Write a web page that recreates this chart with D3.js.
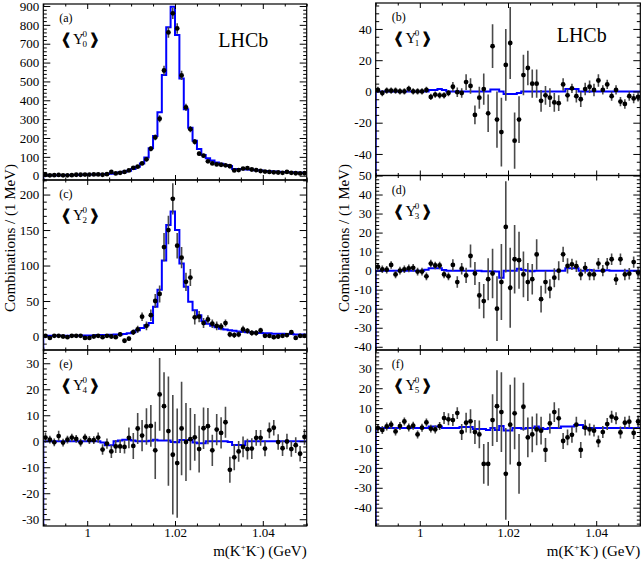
<!DOCTYPE html>
<html><head><meta charset="utf-8">
<script src="https://cdn.jsdelivr.net/npm/d3@7"></script>
<style>body{margin:0;background:#fff}svg{display:block}</style>
</head><body>
<script>
// ---- data ----
const massLo = 0.99, massHi = 1.05, binWidth = 0.001;
const binCenters = d3.range(60).map(i => +(massLo + binWidth * (i + 0.5)).toFixed(4));
const xMajorTicks = [1.00, 1.02, 1.04];
const xTickLabels = ["1", "1.02", "1.04"];

const dataA = [5,2,3,4,2,2,3,5,5,6, 6,7,7,5,8,20,12,15,20,28, 42,48,65,87,143,203,302,558,760,861, 781,532,362,247,180,117,106,76,65,60, 58,55,50,28,30,38,40,33,30,25, 22,20,18,17,15,20,15,13,12,13];
const errA  = [3,3,3,3,3,3,3,3,3,3, 3,3,3,3,3,5,4,4,5,6, 7,7,9,10,13,15,18,25,28,30, 28,24,19,16,14,11,11,9,8,8, 8,8,7,6,6,6,7,6,6,5, 5,5,4,4,4,5,4,4,4,4];
const fitA  = [3,3,3,3,3,4,4,4,5,5, 6,6,7,8,9,10,13,17,21,26, 35,47,65,97,145,210,336,534,787,896, 746,516,353,254,185,141,110,92,80,70, 63,57,52,36,35,34,33,31,29,27, 25,24,22,21,20,19,18,17,16,15];

const dataB = [1,-1,0.5,0.5,0.5,0,0,1.7,0,0, 0,1,-3.5,-2,-2.5,-2.5,-1,3,-0.5,-1, 6,3.5,-15,-4,1.5,-14,29,-18,-26,17, 31,-31.5,-18,10.5,15,5,5,-6,-2.5,-4, -7,-7.5,4.5,-2.5,2,-3,-5,1.5,3,1, 7,1,4.5,-3,1,-6.5,-8,-3,-4.5,-3.5];
const errB  = [2,2,2,2,2,2,2,2,2,2, 2,2,2,2,2,2,2,3,3,3, 5,5,6,7,10,12,14,18,22,23, 23,18,15,13,11,9,9,7,6,6, 6,5,4,4,3,4,5,4,4,4, 4,3,3,3,3,3,3,3,3,3];
const fitB  = [0,0,0,0,0,0,0,0,0,0, 0,0,1,1,1.5,1,0,0,0,0, 0,0,0,0,0,0,1.3,1.3,0,-1.7, -1.7,-1.7,-1,0,0,0,0,0,0,0, 0,0,0,1.5,1.5,1.5,0,0,0,0, 0,0,0,0,0,0,0,0,0,0];

const dataC = [1,-2,1,1,0,-1,1,1,1,-2, -2,0,1,-1,1,0,-1,3,-6,-3, 6,10,28,15,30,50,60,126,150,194, 128,111,77,83,27,28,19,24,18,15, 14,19,3,2,3,10,8,5,5,8.5, 1,1,-1,0,1,2,6,-2,1,1];
const errC  = [2,2,2,2,2,2,2,2,2,2, 2,2,2,2,2,2,2,3,3,3, 4,5,6,6,8,10,12,20,20,22, 18,15,13,12,10,8,7,6,6,6, 5,5,4,4,4,5,4,4,4,4, 3,3,3,3,3,3,3,3,3,3];
const fitC  = [1,1,1,1,1,1,1,1,1,1.5, 1.5,1.5,2,2,2,2.5,3,3,3.5,4.5, 6,9,12,16,19,42,66,107,157,176, 150,103,70,49,37,30,22,18,15,13, 11,10,9,8,7,6.5,6,5.5,5,5, 4.5,4.5,4,4,4,3.5,3.5,3,3,3];

const dataD = [2,0.7,0.5,3,-2,0,0.7,1.2,1.5,-0.5, -0.5,-3,3.7,2.7,2.7,-2,-3,3,-6,1, -2.5,7.7,-1.5,-13,-16,-4.5,-1.5,-20,-6,23, -9,6,5.5,-2,-6,-4.5,8.5,-15,-6,-9.5, -3.7,0,8.6,2.5,3.3,2.3,-2,1.5,-2,-2, 3.7,0,3.7,6,-4.6,6,-2,-1.6,4.5,-1];
const errD  = [2,2,2,2,2,2,2,2,2,2, 2,2,2,2,2,2,2,3,3,3, 4,6,6,7,9,11,13,17,20,24, 21,18,15,12,10,8,8,7,6,5, 5,5,4,4,3,3,3,3,3,3, 3,3,3,3,3,3,3,3,3,3];
const fitD  = [0,0,0,0,0,0,0,0,0,0, 0,0.5,1.3,1.3,1.3,0.3,0,0,0,0, 0,0,0,0,-0.3,-0.3,-0.3,-0.5,-3.7,0, 0,0,1,0.3,0,-0.3,0,0,0,0, 0,0,0,1.2,1.3,1.3,0,0,0.3,0, 0,0,0.2,0,0,0,0,0,0,0];

const dataE = [1.4,0.6,-0.4,2,-0.5,0.6,1.4,0.9,-0.5,1.4, 0.4,0.4,1.4,-3.2,-0.9,-3.9,-2,-2,-2.2,1.3, -1.8,4.9,2.2,5.7,5.9,-3.5,18,13.5,3.9,-5.2, -8.4,4.9,-0.3,0.8,1.5,-3,5,5.8,-3.5,4.5, 3.2,7.3,-11,-6.2,-3.9,-2.2,-3,-2.8,1.3,1.3, -2.8,4.2,5.2,-0.3,-2.7,-0.1,-3,-1.5,-4.8,1.7];
const errE  = [2,1.5,1.5,2,1.5,1.5,1.5,1.5,1.5,1.5, 1.5,1.5,2,2,2,2.5,2.5,2.5,2.5,4, 5,6,6,7,8,11,14,13,21,23, 21,18,15,12,9,9,8,7,6,6, 6,6,5,5,4,4,4,4,3,3, 3,3,3,3,3,3,3,3,3,3];
const fitE  = [0,0,0,0,0,0,0,0,0,0, 0,0,0,-0.5,-1.5,-1.5,0,0.3,0.6,0.6, 0.3,0,0,0,0.2,0.6,0.3,0.3,0.3,-0.3, -0.4,0.5,0.5,0.5,-0.5,-0.8,-0.8,0,0,0, 0,0,-0.3,-1.4,-1.4,-1.4,0,0,0,0, 0,0,0,0,0,0,0,0,0,0];

const dataF = [0,-1,0.8,1.7,-1.7,1,3.3,0.3,1.2,-3.2, 0.2,2.8,-0.3,-0.7,1,5,4.4,4,7.5,-2, 2.7,3.4,-2,-3.2,-18,-18,4,11,8,-23, 1.7,7.4,-18,10.7,-4.7,-3.2,-0.7,-1.3,-11,2.3, 8,4.9,-6.5,-4.7,-3.4,1.7,-11,0.2,-0.7,-1.3, -6.7,-2,2,5.7,4.9,-2.2,2.7,3.2,-2.5,3.3];
const errF  = [2,2,2,2,2,2,2,2,2,2, 2,2,2,2,2,3,3,3,3,4, 5,6,6,7,10,11,13,18,20,23, 20,18,15,12,10,9,8,7,6,5, 5,5,4,4,4,4,4,4,3,3, 3,3,3,3,3,3,3,3,3,3];
const fitF  = [0,0,0,0,0,0,0,0,0,0, 0,0,0.8,0.8,0.8,0,0,0,0,0.5, 0.5,0.5,-0.5,-0.5,-0.5,-1,0,-1,1,-1.2, -1.2,0,0,-0.3,0,0,0.8,0,-0.5,0, 0,0,0.8,0.8,0.8,1.5,1.5,0,0,0, 0,0,0,0,0,0,0,0,0,0];

const panelTags = ["(a)","(b)","(c)","(d)","(e)","(f)"];
const momentIndex = ["0","1","2","3","4","5"];
const yTitle = "Combinations / (1 MeV)";

// ---- layout ----
const W = 641, H = 561;
const FONT = "'Liberation Serif','Times New Roman',serif";
const colX = [[43.3, 306.7], [375.7, 640.3]];
const panels = [
  {k:0, col:0, top:4,     bottom:180,   domain:[-22.8,910.6], major:100, minor:20, data:dataA, err:errA, fit:fitA, lhcb:[175,43], bottomRow:false},
  {k:1, col:1, top:3,     bottom:175.5, domain:[-53.8,56.6],  major:20,  minor:5,  data:dataB, err:errB, fit:fitB, lhcb:[181,39], bottomRow:false},
  {k:2, col:0, top:180,   bottom:350,   domain:[-19,220.5],   major:50,  minor:10, data:dataC, err:errC, fit:fitC, bottomRow:false},
  {k:3, col:1, top:175.5, bottom:350,   domain:[-41.7,50],    major:10,  minor:2,  data:dataD, err:errD, fit:fitD, bottomRow:false},
  {k:4, col:0, top:350,   bottom:526,   domain:[-32.6,35.1],  major:10,  minor:2,  data:dataE, err:errE, fit:fitE, bottomRow:true},
  {k:5, col:1, top:350,   bottom:526,   domain:[-49.2,39.2],  major:10,  minor:2,  data:dataF, err:errF, fit:fitF, bottomRow:true}
];

const svg = d3.select("body").append("svg").attr("width", W).attr("height", H)
  .style("font-family", FONT);
const defs = svg.append("defs");

function ticksBetween(lo, hi, step) {
  const s = Math.ceil(lo / step - 1e-9), e = Math.floor(hi / step + 1e-9);
  return d3.range(s, e + 1).map(i => +(i * step).toFixed(6));
}
function styleAxis(sel) {
  sel.select(".domain").remove();
  sel.selectAll("line").attr("stroke", "#000").attr("stroke-width", 1);
  sel.attr("font-family", FONT).attr("font-size", 13);
  sel.selectAll("text").attr("fill", "#000");
}

const xMinor = ticksBetween(massLo, massHi, 0.005).filter(v => !xMajorTicks.some(m => Math.abs(m - v) < 1e-6));

panels.forEach(p => {
  const [x0, x1] = colX[p.col];
  const x = d3.scaleLinear().domain([massLo, massHi]).range([x0, x1]);
  const y = d3.scaleLinear().domain(p.domain).range([p.bottom, p.top]);
  const g = svg.append("g");
  const clipId = "clip" + p.k;
  defs.append("clipPath").attr("id", clipId).append("rect")
    .attr("x", x0).attr("y", p.top).attr("width", x1 - x0).attr("height", p.bottom - p.top);
  const plot = g.append("g").attr("clip-path", `url(#${clipId})`);

  // fit histogram (step line)
  const pts = [[massLo, p.domain[0]]]
    .concat(binCenters.map((c, i) => [c - binWidth / 2, p.fit[i]]))
    .concat([[massHi, p.fit[p.fit.length - 1]]]);
  plot.append("path")
    .attr("d", d3.line().x(d => x(d[0])).y(d => y(d[1])).curve(d3.curveStepAfter)(pts))
    .attr("fill", "none").attr("stroke", "#0000ff").attr("stroke-width", 2);

  // error bars
  plot.append("g").selectAll("line").data(binCenters).join("line")
    .attr("x1", c => x(c)).attr("x2", c => x(c))
    .attr("y1", (c, i) => y(p.data[i] - p.err[i]))
    .attr("y2", (c, i) => y(p.data[i] + p.err[i]))
    .attr("stroke", "#4a4a4a").attr("stroke-width", 1.6);
  // markers
  plot.append("g").selectAll("circle").data(binCenters).join("circle")
    .attr("cx", c => x(c)).attr("cy", (c, i) => y(p.data[i]))
    .attr("r", 2.4).attr("fill", "#000");

  // axes
  const yMaj = ticksBetween(p.domain[0], p.domain[1], p.major);
  const yMin = ticksBetween(p.domain[0], p.domain[1], p.minor).filter(v => !yMaj.includes(v));
  g.append("g").attr("transform", `translate(${x0},0)`)
    .call(d3.axisLeft(y).tickValues(yMaj).tickSizeInner(-7).tickSizeOuter(0).tickPadding(4).tickFormat(d => String(d)))
    .call(styleAxis);
  g.append("g").attr("transform", `translate(${x0},0)`)
    .call(d3.axisLeft(y).tickValues(yMin).tickSizeInner(-3.5).tickSizeOuter(0).tickFormat(""))
    .call(styleAxis);
  g.append("g").attr("transform", `translate(${x1},0)`)
    .call(d3.axisRight(y).tickValues(yMaj).tickSizeInner(-7).tickSizeOuter(0).tickFormat(""))
    .call(styleAxis);
  g.append("g").attr("transform", `translate(${x1},0)`)
    .call(d3.axisRight(y).tickValues(yMin).tickSizeInner(-3.5).tickSizeOuter(0).tickFormat(""))
    .call(styleAxis);
  g.append("g").attr("transform", `translate(0,${p.bottom})`)
    .call(d3.axisBottom(x).tickValues(xMajorTicks).tickSizeInner(-5).tickSizeOuter(0).tickPadding(1.5)
      .tickFormat((d, i) => p.bottomRow ? xTickLabels[i] : ""))
    .call(styleAxis);
  g.append("g").attr("transform", `translate(0,${p.bottom})`)
    .call(d3.axisBottom(x).tickValues(xMinor).tickSizeInner(-2.5).tickSizeOuter(0).tickFormat(""))
    .call(styleAxis);
  g.append("g").attr("transform", `translate(0,${p.top})`)
    .call(d3.axisTop(x).tickValues(xMajorTicks).tickSizeInner(-5).tickSizeOuter(0).tickFormat(""))
    .call(styleAxis);
  g.append("g").attr("transform", `translate(0,${p.top})`)
    .call(d3.axisTop(x).tickValues(xMinor).tickSizeInner(-2.5).tickSizeOuter(0).tickFormat(""))
    .call(styleAxis);

  // frame
  g.append("rect").attr("x", x0).attr("y", p.top).attr("width", x1 - x0).attr("height", p.bottom - p.top)
    .attr("fill", "none").attr("stroke", "#000").attr("stroke-width", 1.2);

  // panel tag
  g.append("text").attr("x", x0 + 16).attr("y", p.top + 18).attr("font-size", 12).text(panelTags[p.k]);
  // <Y^0_L> as one text element
  const lab = g.append("text").attr("x", x0 + 17).attr("y", p.top + 40).attr("font-size", 15);
  lab.append("tspan").attr("font-family", "'DejaVu Sans'").attr("font-weight", "bold")
    .attr("stroke", "#000").attr("stroke-width", 1.1).attr("font-size", 14).text("❬");
  lab.append("tspan").attr("dx", 1).text("Y");
  lab.append("tspan").attr("font-size", 9).attr("dx", -1.5).attr("dy", -7).text("0");
  lab.append("tspan").attr("font-size", 9).attr("dx", -4.5).attr("dy", 10).text(momentIndex[p.k]);
  lab.append("tspan").attr("font-family", "'DejaVu Sans'").attr("font-weight", "bold")
    .attr("stroke", "#000").attr("stroke-width", 1.1).attr("font-size", 14).attr("dx", 1.5).attr("dy", -3).text("❭");
  if (p.lhcb) {
    g.append("text").attr("x", x0 + p.lhcb[0]).attr("y", p.top + p.lhcb[1]).attr("font-size", 20).text("LHCb");
  }
});

// axis titles
[[15, 0], [349, 1]].forEach(([tx, c]) => {
  svg.append("text").attr("transform", `translate(${tx},238) rotate(-90)`)
    .attr("text-anchor", "middle").attr("font-size", 15).text(yTitle);
  const t = svg.append("text").attr("x", colX[c][1]).attr("y", 556).attr("text-anchor", "end").attr("font-size", 15);
  t.append("tspan").text("m(K");
  t.append("tspan").attr("font-size", 9).attr("dy", -6).text("+");
  t.append("tspan").attr("dy", 6).text("K");
  t.append("tspan").attr("font-size", 9).attr("dy", -6).text("-");
  t.append("tspan").attr("dy", 6).text(") (GeV)");
});
</script>
</body></html>
